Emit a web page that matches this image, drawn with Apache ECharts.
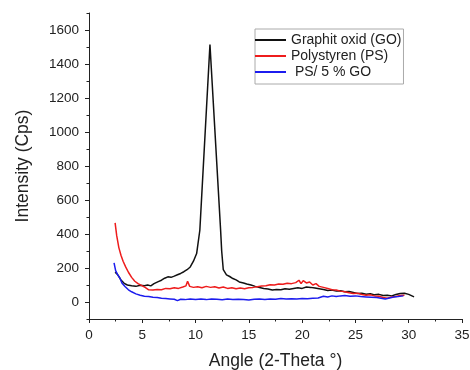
<!DOCTYPE html>
<html>
<head>
<meta charset="utf-8">
<script src="https://cdn.jsdelivr.net/npm/echarts@6/dist/echarts.min.js"></script>
<style>
    html, body { margin: 0; padding: 0; background: #fff; }
    #main { width: 470px; height: 370px; }
</style>
</head>
<body>
<div id="main"></div>
<script>
// 数据
var seriesNames = ['Graphit oxid (GO)', 'Polystyren (PS)', ' PS/ 5 % GO'];
var xTicks = [0, 5, 10, 15, 20, 25, 30, 35];
var yTicks = [0, 200, 400, 600, 800, 1000, 1200, 1400, 1600];
var goData = [[2.45, 175], [2.7, 160], [3.0, 130], [3.3, 110], [3.6, 100], [4.0, 95], [4.4, 92], [4.8, 98], [5.2, 96], [5.5, 100],
    [5.8, 95], [6.1, 108], [6.5, 120], [6.8, 128], [7.1, 140], [7.4, 148], [7.7, 145], [8.0, 152], [8.3, 160], [8.6, 168],
    [8.9, 178], [9.2, 190], [9.5, 206], [9.8, 240], [10.1, 285], [10.4, 422], [11.35, 1515], [12.35, 422], [12.45, 300], [12.6, 190],
    [12.9, 160], [13.2, 150], [13.5, 138], [13.8, 130], [14.1, 118], [14.5, 112], [14.8, 106], [15.2, 100], [15.6, 92], [16.0, 85],
    [16.4, 80], [16.8, 76], [17.2, 70], [17.6, 74], [18.0, 72], [18.4, 78], [18.8, 75], [19.2, 80], [19.6, 84], [20.0, 80],
    [20.4, 88], [20.8, 86], [21.2, 82], [21.6, 78], [22.0, 74], [22.4, 68], [22.8, 70], [23.2, 64], [23.6, 66], [24.0, 60],
    [24.4, 62], [24.8, 56], [25.2, 50], [25.6, 52], [26.0, 46], [26.4, 48], [26.8, 42], [27.2, 45], [27.6, 38], [28.0, 40],
    [28.4, 36], [28.8, 44], [29.2, 50], [29.6, 52], [30.0, 45], [30.5, 30]];
var psData = [[2.45, 465], [2.6, 390], [2.8, 320], [3.0, 275], [3.2, 240], [3.45, 205], [3.7, 175], [4.0, 145], [4.3, 122], [4.6, 108],
    [5.0, 95], [5.3, 85], [5.6, 72], [6.0, 70], [6.4, 74], [6.8, 72], [7.2, 80], [7.6, 78], [8.0, 84], [8.4, 80],
    [8.8, 88], [9.1, 95], [9.25, 122], [9.45, 92], [9.8, 86], [10.2, 90], [10.6, 84], [11.0, 92], [11.4, 86], [11.8, 90],
    [12.2, 82], [12.6, 88], [13.0, 80], [13.4, 84], [13.8, 78], [14.2, 82], [14.6, 78], [15.0, 84], [15.4, 86], [15.8, 90],
    [16.2, 94], [16.6, 96], [17.0, 102], [17.4, 100], [17.8, 106], [18.2, 104], [18.6, 110], [19.0, 108], [19.4, 114], [19.7, 128],
    [19.9, 108], [20.1, 126], [20.4, 112], [20.7, 118], [21.0, 100], [21.3, 108], [21.6, 92], [22.0, 86], [22.4, 80], [22.8, 72],
    [23.2, 70], [23.6, 64], [24.0, 60], [24.4, 54], [24.8, 50], [25.2, 52], [25.6, 44], [26.0, 40], [26.4, 42], [26.8, 36],
    [27.2, 34], [27.6, 26], [28.0, 22], [28.4, 30], [28.8, 32], [29.2, 38], [29.6, 40]];
var psgoData = [[2.35, 230], [2.5, 185], [2.7, 160], [2.9, 140], [3.1, 110], [3.4, 90], [3.7, 72], [4.0, 60], [4.4, 48], [4.8, 40],
    [5.2, 34], [5.6, 32], [6.0, 28], [6.4, 26], [6.8, 22], [7.2, 20], [7.6, 18], [8.0, 16], [8.3, 8], [8.6, 16],
    [9.0, 14], [9.5, 18], [10.0, 15], [10.5, 17], [11.0, 14], [11.5, 18], [12.0, 16], [12.5, 13], [13.0, 17], [13.5, 15],
    [14.0, 16], [14.5, 14], [15.0, 12], [15.5, 16], [16.0, 17], [16.5, 15], [17.0, 18], [17.5, 16], [18.0, 20], [18.5, 17],
    [19.0, 19], [19.5, 18], [20.0, 20], [20.5, 19], [21.0, 22], [21.5, 24], [22.0, 34], [22.4, 30], [22.8, 36], [23.2, 32],
    [23.6, 36], [24.0, 38], [24.5, 34], [25.0, 36], [25.5, 32], [26.0, 30], [26.5, 28], [27.0, 26], [27.4, 22], [27.8, 18],
    [28.2, 24], [28.6, 30], [29.0, 32], [29.5, 36]];

var axisColor = '#222';
var font = 'Liberation Sans, Arial, sans-serif';

//初始化图表
var chart = echarts.init(document.getElementById('main'));
chart.setOption(
    option = {
        animation: false,
        color: ['#111111', '#ee1c1c', '#1c1cee'],
        textStyle: { fontFamily: font },
        grid: { left: 89, right: 8, top: 13, bottom: 51, containLabel: false, outerBoundsMode: 'none' },
        legend: {
            data: seriesNames,
            orient: 'vertical',
            left: 255,
            top: 29,
            padding: [3, 2, 4, 0],
            itemGap: 0,
            itemWidth: 31,
            itemHeight: 2,
            icon: 'rect',
            borderColor: '#aaa',
            borderWidth: 1,
            textStyle: { fontSize: 14, color: '#222', lineHeight: 16 }
        },
        xAxis: {
            type: 'value',
            min: 0,
            max: 35,
            interval: 5,
            name: 'Angle (2-Theta °)',
            nameLocation: 'middle',
            nameGap: 33,
            nameTextStyle: { fontSize: 17.5, color: '#222' },
            splitLine: { show: false },
            axisLine: { onZero: false, lineStyle: { color: axisColor } },
            axisTick: { length: 4, lineStyle: { color: axisColor }, customValues: xTicks },
            minorTick: { show: true, splitNumber: 2, length: 2.5, lineStyle: { color: axisColor } },
            axisLabel: { fontSize: 13.5, color: '#222', margin: 9, customValues: xTicks }
        },
        yAxis: [
            {
                type: 'value',
                min: -100,
                max: 1700,
                name: 'Intensity (Cps)',
                nameLocation: 'middle',
                nameGap: 57,
                nameTextStyle: { fontSize: 17.5, color: '#222' },
                splitLine: { show: false },
                axisLine: { onZero: false, lineStyle: { color: axisColor } },
                axisTick: { length: 4, lineStyle: { color: axisColor }, customValues: yTicks },
                axisLabel: {
                    fontSize: 13.5, color: '#222', margin: 10, customValues: yTicks,
                    formatter: function (v) { return String(v); }
                }
            },
            {
                // minor ticks only
                type: 'value',
                min: -100,
                max: 1700,
                interval: 100,
                position: 'left',
                splitLine: { show: false },
                axisLine: { show: false, onZero: false },
                axisTick: { length: 2.5, lineStyle: { color: axisColor } },
                axisLabel: { show: false }
            }
        ],
        series: [
            {
                name: seriesNames[0],
                type: 'line',
                showSymbol: false,
                lineStyle: { width: 1.5 },
                data: goData
            },
            {
                name: seriesNames[1],
                type: 'line',
                showSymbol: false,
                lineStyle: { width: 1.5 },
                data: psData
            },
            {
                name: seriesNames[2],
                type: 'line',
                showSymbol: false,
                lineStyle: { width: 1.5 },
                data: psgoData
            }
        ]
    });
</script>
</body>
</html>
